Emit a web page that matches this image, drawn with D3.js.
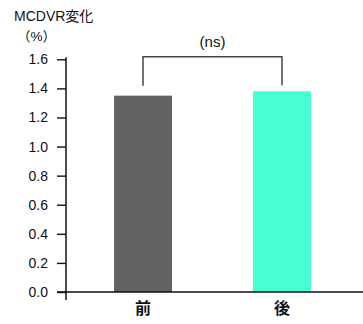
<!DOCTYPE html>
<html>
<head>
<meta charset="utf-8">
<script src="https://cdn.jsdelivr.net/npm/d3@7"></script>
<style>
  html, body { margin: 0; padding: 0; background: #fff; }
  svg { display: block; }
  text { font-family: "Liberation Sans", Arial, "Noto Sans CJK JP", sans-serif; fill: #111; }
</style>
</head>
<body>
<svg id="chart" width="363" height="324"></svg>
<script>
// MCDVR change before / after
const categories = ["前", "後"];
const values = [1.35, 1.38];
const barColors = ["#626262", "#48FFD1"];
const yTicks = [0, 0.2, 0.4, 0.6, 0.8, 1.0, 1.2, 1.4, 1.6];
const yTitle = "MCDVR変化";
const yUnit = "（%）";
const sigLabel = "(ns)";

const svg = d3.select("#chart");
const axisX = 66, baseY = 292;

const y = d3.scaleLinear().domain([0, 1.6]).range([baseY, 59.3]);
const x = d3.scaleBand().domain(categories).range([74, 351]).paddingInner(0.583).paddingOuter(0.288);

// bars
svg.selectAll("rect.bar").data(values).join("rect")
  .attr("class", "bar")
  .attr("x", (d, i) => x(categories[i]))
  .attr("width", x.bandwidth())
  .attr("y", d => y(d))
  .attr("height", d => baseY - y(d))
  .attr("fill", (d, i) => barColors[i]);

// y axis
const yAxis = d3.axisLeft(y).tickValues(yTicks).tickFormat(d3.format(".1f"))
  .tickSize(9).tickPadding(9);
const gy = svg.append("g").attr("transform", `translate(${axisX},0)`).call(yAxis);
gy.select(".domain").remove();
gy.selectAll(".tick line").attr("stroke", "#111").attr("stroke-width", 1.4);
gy.selectAll(".tick text").attr("font-size", 14).attr("fill", "#111")
  .attr("font-family", "Liberation Sans, Arial, sans-serif");
svg.append("line").attr("x1", axisX).attr("x2", axisX)
  .attr("y1", y(1.6) - 2).attr("y2", baseY + 8)
  .attr("stroke", "#111").attr("stroke-width", 1.5);

// x axis
const xAxis = d3.axisBottom(x).tickSize(0).tickPadding(11);
const gx = svg.append("g").attr("transform", `translate(0,${baseY})`).call(xAxis);
gx.select(".domain").remove();
gx.selectAll(".tick text").attr("font-size", 16).attr("font-weight", "bold")
  .attr("fill", "#111").attr("font-family", "Noto Sans CJK JP, sans-serif");
svg.append("line").attr("x1", axisX - 9).attr("x2", 363)
  .attr("y1", baseY).attr("y2", baseY)
  .attr("stroke", "#111").attr("stroke-width", 1.5);

// axis title
svg.append("text").attr("x", 14).attr("y", 21).attr("font-size", 14)
  .attr("font-family", "Liberation Sans, Arial, Noto Sans CJK JP, sans-serif").text(yTitle);
svg.append("text").attr("x", 17).attr("y", 41).attr("font-size", 13.5)
  .attr("font-family", "Noto Sans CJK JP, sans-serif").text(yUnit);

// significance bracket
const cx = categories.map(c => x(c) + x.bandwidth() / 2);
const bracketY = 56.7;
svg.append("path")
  .attr("d", `M${cx[0]},${y(values[0]) - 10}V${bracketY}H${cx[1]}V${y(values[1]) - 6}`)
  .attr("fill", "none").attr("stroke", "#444").attr("stroke-width", 1.5);
svg.append("text").attr("x", (cx[0] + cx[1]) / 2).attr("y", 47)
  .attr("text-anchor", "middle").attr("font-size", 15)
  .attr("font-family", "Noto Sans CJK JP, sans-serif").text(sigLabel);
</script>
</body>
</html>
